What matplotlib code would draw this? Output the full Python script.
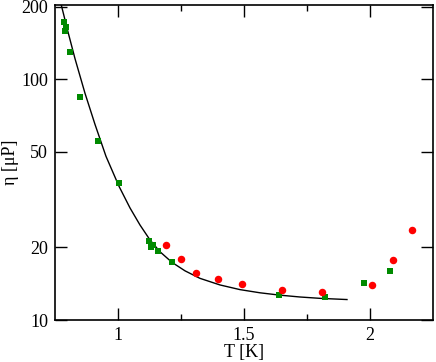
import matplotlib
matplotlib.use('Agg')
from matplotlib import pyplot as plt
from matplotlib.ticker import FixedLocator, NullLocator, FixedFormatter

plt.rcParams['font.family'] = ['Liberation Serif', 'DejaVu Serif']

# green squares
T_sq = [0.7845, 0.7937, 0.7885, 0.8095, 0.848, 0.9218, 1.005, 1.123, 1.140,
        1.130, 1.1575, 1.2155, 1.6377, 1.820, 1.977, 2.0806]
eta_sq = [172, 164, 158, 130, 84.4, 55.3, 36.9, 21.2, 20.5,
          20.1, 19.3, 17.45, 12.68, 12.43, 14.22, 16.0]

# red circles
T_ci = [1.1925, 1.2488, 1.3107, 1.3956, 1.4933, 1.6496, 1.8107, 2.0067, 2.0913, 2.1655]
eta_ci = [20.4, 17.9, 15.74, 14.82, 14.09, 13.34, 13.12, 13.95, 17.8, 23.56]

# fit line
T_fit = [0.7738, 0.8016, 0.8294, 0.8690, 0.9087, 0.9524, 1.0040, 1.0476, 1.0873,
         1.1270, 1.1667, 1.2143, 1.2659, 1.3254, 1.4048, 1.4841, 1.5635, 1.6429,
         1.7222, 1.8016, 1.9087]
eta_fit = [205.4, 157.0, 121.6, 87.4, 64.9, 47.8, 35.9, 29.2, 24.8,
           21.5, 19.2, 17.35, 16.0, 14.89, 13.98, 13.37, 12.97, 12.68,
           12.46, 12.30, 12.16]

yticks = [10, 20, 50, 100, 200]

fig = plt.figure(figsize=(4.36, 3.62), dpi=100)
ax = fig.add_axes([0.1261, 0.116, 0.867, 0.8702])

ax.plot(T_fit, eta_fit, '-', color='black', linewidth=1.0)
ax.plot(T_sq, eta_sq, 's', color='#008a00', markersize=4.6, markeredgewidth=0)
ax.plot(T_ci, eta_ci, 'o', color='#ff0000', markersize=5.4, markeredgewidth=0)

ax.set_yscale('log')
ax.set_xlim(0.75, 2.25)
ax.set_ylim(10, 203)

ax.xaxis.set_major_locator(FixedLocator([1.0, 1.5, 2.0]))
ax.xaxis.set_minor_locator(FixedLocator([1.25, 1.75]))
ax.xaxis.set_major_formatter(FixedFormatter(['1', '1.5', '2']))
ax.yaxis.set_major_locator(FixedLocator(yticks))
ax.yaxis.set_minor_locator(NullLocator())
ax.yaxis.set_major_formatter(FixedFormatter([str(v) for v in yticks]))

ax.tick_params(which='both', direction='in', top=True, right=True,
               labelsize=13, width=1.0, pad=5)
ax.tick_params(which='major', length=8.6)
ax.tick_params(which='minor', length=4.3)
for s in ax.spines.values():
    s.set_linewidth(1.2)

ax.set_xlabel('T [K]', fontsize=13, labelpad=0)
ax.set_ylabel('η [μP]', fontsize=13)
ax.yaxis.set_label_coords(-0.096, 0.5)

fig.savefig('out.png', dpi=100)
